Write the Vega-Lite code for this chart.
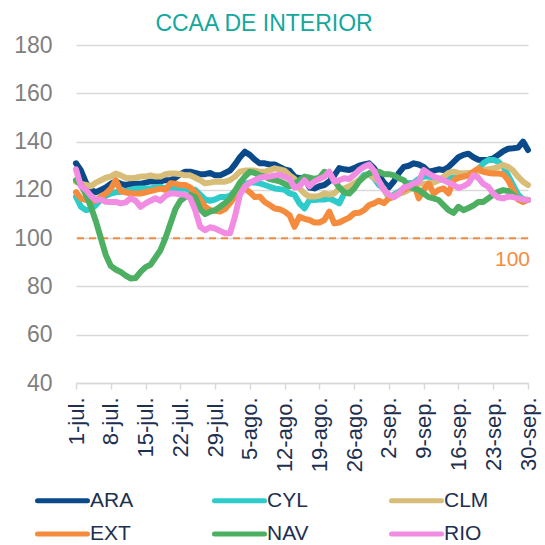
{
  "$schema": "https://vega.github.io/schema/vega-lite/v6.json",
  "autosize": "none",
  "width": 452,
  "height": 338,
  "padding": {"left": 76, "top": 45, "right": 17, "bottom": 162},
  "background": "white",
  "config": {"font": "Liberation Sans", "view": {"stroke": null}},
  "title": {"text": "CCAA DE INTERIOR", "color": "#12a89d", "fontSize": 23, "fontWeight": "normal", "anchor": "middle", "frame": "group", "dx": -38, "offset": -2},
  "datasets": {
    "serie": [
      {"f":"2021-07-01","ARA":131,"CYL":117.2,"CLM":123.4,"EXT":119,"NAV":124,"RIO":128.5},
      {"f":"2021-07-02","ARA":128,"CYL":113,"CLM":122.5,"EXT":116.5,"NAV":122,"RIO":121.5},
      {"f":"2021-07-03","ARA":123,"CYL":111.6,"CLM":122,"EXT":115.8,"NAV":118,"RIO":120},
      {"f":"2021-07-04","ARA":120,"CYL":112,"CLM":121.5,"EXT":115.5,"NAV":113,"RIO":117.5},
      {"f":"2021-07-05","ARA":119,"CYL":113.7,"CLM":123,"EXT":115.5,"NAV":107,"RIO":115.8},
      {"f":"2021-07-06","ARA":120,"CYL":116,"CLM":124,"EXT":117.2,"NAV":100,"RIO":116},
      {"f":"2021-07-07","ARA":121,"CYL":117.5,"CLM":125,"EXT":118.5,"NAV":93,"RIO":115.1},
      {"f":"2021-07-08","ARA":122.5,"CYL":118.5,"CLM":125.5,"EXT":120.5,"NAV":88.5,"RIO":115},
      {"f":"2021-07-09","ARA":123.5,"CYL":119,"CLM":126.8,"EXT":124,"NAV":87,"RIO":115},
      {"f":"2021-07-10","ARA":122.5,"CYL":119.2,"CLM":126,"EXT":119.5,"NAV":86,"RIO":114.4},
      {"f":"2021-07-11","ARA":122,"CYL":119.5,"CLM":125,"EXT":119,"NAV":84.5,"RIO":114.8},
      {"f":"2021-07-12","ARA":122.5,"CYL":120,"CLM":124.8,"EXT":118.5,"NAV":83.3,"RIO":116.5},
      {"f":"2021-07-13","ARA":122.5,"CYL":120.5,"CLM":125,"EXT":118.5,"NAV":83.5,"RIO":115.5},
      {"f":"2021-07-14","ARA":122.5,"CYL":120.6,"CLM":125.5,"EXT":118.5,"NAV":86,"RIO":113},
      {"f":"2021-07-15","ARA":123,"CYL":120.6,"CLM":125.5,"EXT":119,"NAV":88,"RIO":114.4},
      {"f":"2021-07-16","ARA":123.5,"CYL":120.6,"CLM":126,"EXT":119.5,"NAV":89,"RIO":115.5},
      {"f":"2021-07-17","ARA":123.5,"CYL":121,"CLM":125.5,"EXT":120,"NAV":92,"RIO":116.5},
      {"f":"2021-07-18","ARA":123.5,"CYL":121.3,"CLM":125.5,"EXT":120.5,"NAV":95,"RIO":115.5},
      {"f":"2021-07-19","ARA":124,"CYL":120.5,"CLM":126.5,"EXT":120,"NAV":100,"RIO":117.5},
      {"f":"2021-07-20","ARA":124,"CYL":120.5,"CLM":126.8,"EXT":122.7,"NAV":106,"RIO":118.5},
      {"f":"2021-07-21","ARA":125,"CYL":120.5,"CLM":126.8,"EXT":122.5,"NAV":112,"RIO":118.5},
      {"f":"2021-07-22","ARA":126.5,"CYL":120.5,"CLM":126.5,"EXT":122,"NAV":115.5,"RIO":118.2},
      {"f":"2021-07-23","ARA":127.5,"CYL":120.5,"CLM":126,"EXT":122,"NAV":117,"RIO":118},
      {"f":"2021-07-24","ARA":127.5,"CYL":120,"CLM":126,"EXT":121,"NAV":118,"RIO":116.5},
      {"f":"2021-07-25","ARA":127,"CYL":120,"CLM":125,"EXT":119,"NAV":117,"RIO":111.6},
      {"f":"2021-07-26","ARA":126.5,"CYL":118,"CLM":124,"EXT":116,"NAV":112,"RIO":104.7},
      {"f":"2021-07-27","ARA":126.5,"CYL":116,"CLM":122.7,"EXT":113,"NAV":110,"RIO":103.3},
      {"f":"2021-07-28","ARA":127,"CYL":115.5,"CLM":123,"EXT":111.6,"NAV":111,"RIO":104.5},
      {"f":"2021-07-29","ARA":126,"CYL":116,"CLM":123.4,"EXT":111.3,"NAV":111.6,"RIO":104},
      {"f":"2021-07-30","ARA":126,"CYL":117,"CLM":123.4,"EXT":111,"NAV":113,"RIO":103},
      {"f":"2021-07-31","ARA":127,"CYL":117,"CLM":123.4,"EXT":112,"NAV":114.5,"RIO":102},
      {"f":"2021-08-01","ARA":128,"CYL":117.5,"CLM":124,"EXT":114.5,"NAV":116.5,"RIO":102},
      {"f":"2021-08-02","ARA":130.5,"CYL":119.5,"CLM":125.5,"EXT":117.2,"NAV":119.5,"RIO":108.9},
      {"f":"2021-08-03","ARA":133.5,"CYL":121.3,"CLM":127.5,"EXT":121.3,"NAV":123,"RIO":118},
      {"f":"2021-08-04","ARA":135.8,"CYL":122.5,"CLM":128,"EXT":120.5,"NAV":125.5,"RIO":121.3},
      {"f":"2021-08-05","ARA":134.5,"CYL":123,"CLM":128,"EXT":119,"NAV":127.5,"RIO":123},
      {"f":"2021-08-06","ARA":132.5,"CYL":123,"CLM":128,"EXT":117,"NAV":127,"RIO":124},
      {"f":"2021-08-07","ARA":131,"CYL":122.7,"CLM":127.5,"EXT":117.2,"NAV":126,"RIO":125},
      {"f":"2021-08-08","ARA":131,"CYL":122,"CLM":127.5,"EXT":115,"NAV":125.5,"RIO":125.3},
      {"f":"2021-08-09","ARA":130.5,"CYL":121.3,"CLM":128.2,"EXT":113.7,"NAV":124.5,"RIO":125.5},
      {"f":"2021-08-10","ARA":130.5,"CYL":120.6,"CLM":128.9,"EXT":112.3,"NAV":124,"RIO":126},
      {"f":"2021-08-11","ARA":129.5,"CYL":120.3,"CLM":128.5,"EXT":112,"NAV":123.5,"RIO":126.2},
      {"f":"2021-08-12","ARA":128.5,"CYL":120,"CLM":128,"EXT":111,"NAV":122.5,"RIO":125.5},
      {"f":"2021-08-13","ARA":128,"CYL":118.5,"CLM":126,"EXT":109.5,"NAV":121.5,"RIO":124.5},
      {"f":"2021-08-14","ARA":125.5,"CYL":117.9,"CLM":124.5,"EXT":104.7,"NAV":122.5,"RIO":121},
      {"f":"2021-08-15","ARA":124.8,"CYL":114.4,"CLM":120.6,"EXT":108.9,"NAV":124,"RIO":121.5},
      {"f":"2021-08-16","ARA":125,"CYL":112.3,"CLM":118.5,"EXT":108,"NAV":125.5,"RIO":124},
      {"f":"2021-08-17","ARA":121,"CYL":115.8,"CLM":117.2,"EXT":107.5,"NAV":125,"RIO":121.5},
      {"f":"2021-08-18","ARA":120.6,"CYL":115.8,"CLM":117.2,"EXT":106.5,"NAV":124.5,"RIO":123.5},
      {"f":"2021-08-19","ARA":121.5,"CYL":116,"CLM":117.5,"EXT":106.5,"NAV":125,"RIO":124.5},
      {"f":"2021-08-20","ARA":122,"CYL":116,"CLM":118.5,"EXT":107.5,"NAV":127.5,"RIO":125.5},
      {"f":"2021-08-21","ARA":123.5,"CYL":116.5,"CLM":118,"EXT":111,"NAV":126.5,"RIO":127.5},
      {"f":"2021-08-22","ARA":126,"CYL":115.5,"CLM":118.5,"EXT":106.1,"NAV":124,"RIO":123.4},
      {"f":"2021-08-23","ARA":129,"CYL":114.4,"CLM":120.6,"EXT":106.5,"NAV":121,"RIO":124},
      {"f":"2021-08-24","ARA":128.5,"CYL":118.5,"CLM":120.6,"EXT":107.5,"NAV":119,"RIO":124.8},
      {"f":"2021-08-25","ARA":128.2,"CYL":120,"CLM":121.5,"EXT":108.5,"NAV":118.5,"RIO":124.5},
      {"f":"2021-08-26","ARA":129,"CYL":121.3,"CLM":122.7,"EXT":110.3,"NAV":120.5,"RIO":126.2},
      {"f":"2021-08-27","ARA":130,"CYL":124,"CLM":124,"EXT":110.5,"NAV":123.5,"RIO":128.2},
      {"f":"2021-08-28","ARA":130.5,"CYL":126.2,"CLM":125.5,"EXT":111.6,"NAV":125.5,"RIO":129.6},
      {"f":"2021-08-29","ARA":131,"CYL":126.5,"CLM":126.8,"EXT":113.7,"NAV":126.8,"RIO":130.5},
      {"f":"2021-08-30","ARA":129,"CYL":124.8,"CLM":125,"EXT":114.4,"NAV":127.5,"RIO":128},
      {"f":"2021-08-31","ARA":126,"CYL":122,"CLM":123.4,"EXT":115.5,"NAV":127.5,"RIO":123.5},
      {"f":"2021-09-01","ARA":123,"CYL":120.6,"CLM":120,"EXT":114.5,"NAV":126.5,"RIO":120},
      {"f":"2021-09-02","ARA":121,"CYL":116.5,"CLM":117.2,"EXT":116.5,"NAV":126.5,"RIO":118},
      {"f":"2021-09-03","ARA":123.5,"CYL":118,"CLM":117.5,"EXT":117,"NAV":126,"RIO":117},
      {"f":"2021-09-04","ARA":127,"CYL":119.2,"CLM":118.5,"EXT":118.5,"NAV":124.8,"RIO":118.5},
      {"f":"2021-09-05","ARA":129.5,"CYL":120.6,"CLM":119,"EXT":120,"NAV":124,"RIO":121},
      {"f":"2021-09-06","ARA":130,"CYL":122.7,"CLM":120,"EXT":121,"NAV":121.5,"RIO":121.5},
      {"f":"2021-09-07","ARA":131,"CYL":123,"CLM":121,"EXT":122.7,"NAV":120.5,"RIO":122.7},
      {"f":"2021-09-08","ARA":130.5,"CYL":124.5,"CLM":122.7,"EXT":116.5,"NAV":120,"RIO":123.4},
      {"f":"2021-09-09","ARA":129.5,"CYL":125.5,"CLM":122.5,"EXT":120,"NAV":118.5,"RIO":128.2},
      {"f":"2021-09-10","ARA":127.5,"CYL":125.5,"CLM":122.5,"EXT":122.7,"NAV":117,"RIO":126.8},
      {"f":"2021-09-11","ARA":128,"CYL":125,"CLM":123,"EXT":118.5,"NAV":116.5,"RIO":125.5},
      {"f":"2021-09-12","ARA":128.5,"CYL":124,"CLM":124,"EXT":120,"NAV":115.8,"RIO":124.8},
      {"f":"2021-09-13","ARA":128.2,"CYL":124.8,"CLM":125.5,"EXT":120.6,"NAV":113.7,"RIO":124},
      {"f":"2021-09-14","ARA":129.5,"CYL":125,"CLM":127,"EXT":118.5,"NAV":111.6,"RIO":123},
      {"f":"2021-09-15","ARA":131.5,"CYL":125.5,"CLM":127.5,"EXT":124,"NAV":110.5,"RIO":122},
      {"f":"2021-09-16","ARA":133.5,"CYL":125.8,"CLM":127,"EXT":125,"NAV":113,"RIO":120.8},
      {"f":"2021-09-17","ARA":134.5,"CYL":126.1,"CLM":126.8,"EXT":125.5,"NAV":111.6,"RIO":121.5},
      {"f":"2021-09-18","ARA":135,"CYL":126.5,"CLM":127,"EXT":126,"NAV":112.5,"RIO":122.7},
      {"f":"2021-09-19","ARA":133.5,"CYL":126.8,"CLM":127,"EXT":127.5,"NAV":113.5,"RIO":126},
      {"f":"2021-09-20","ARA":132.5,"CYL":128.5,"CLM":127.5,"EXT":128.9,"NAV":115,"RIO":125},
      {"f":"2021-09-21","ARA":132.4,"CYL":131,"CLM":128.2,"EXT":127.5,"NAV":115,"RIO":122.5},
      {"f":"2021-09-22","ARA":132.5,"CYL":132.4,"CLM":128.5,"EXT":127,"NAV":116.5,"RIO":121.3},
      {"f":"2021-09-23","ARA":133,"CYL":132.4,"CLM":128.9,"EXT":126.8,"NAV":118,"RIO":118.5},
      {"f":"2021-09-24","ARA":134.5,"CYL":131.7,"CLM":129.5,"EXT":126.8,"NAV":119.2,"RIO":116.8},
      {"f":"2021-09-25","ARA":136,"CYL":129.6,"CLM":130.3,"EXT":126.5,"NAV":119.9,"RIO":116.5},
      {"f":"2021-09-26","ARA":137,"CYL":126,"CLM":129.5,"EXT":124,"NAV":119.5,"RIO":117.2},
      {"f":"2021-09-27","ARA":137.2,"CYL":122,"CLM":128,"EXT":120,"NAV":118,"RIO":117},
      {"f":"2021-09-28","ARA":137.5,"CYL":118,"CLM":125.5,"EXT":116,"NAV":116.5,"RIO":116.5},
      {"f":"2021-09-29","ARA":140,"CYL":116,"CLM":123.4,"EXT":115,"NAV":116,"RIO":116},
      {"f":"2021-09-30","ARA":136.5,"CYL":115.8,"CLM":122,"EXT":115.8,"NAV":115.8,"RIO":115.8}
    ]
  },
  "layer": [
    {
      "data": {"values": [{"ref": 100}]},
      "mark": {"type": "rule", "color": "#f58c3d", "strokeWidth": 2, "strokeDash": [7, 5]},
      "encoding": {"y": {"field": "ref", "type": "quantitative"}}
    },
    {
      "data": {"name": "serie"},
      "transform": [{"fold": ["ARA", "CYL", "CLM", "EXT", "NAV", "RIO"], "as": ["serie", "valor"]}],
      "mark": {"type": "line", "strokeWidth": 6, "strokeJoin": "round", "strokeCap": "round"},
      "encoding": {
        "x": {
          "field": "f", "type": "temporal",
          "scale": {"type": "utc", "domain": [1625097600000, 1632960000000], "nice": false},
          "axis": {
            "title": null, "grid": false, "tickCount": 40,
            "values": [1625097600000, 1625702400000, 1626307200000, 1626912000000, 1627516800000, 1628121600000, 1628726400000, 1629331200000, 1629936000000, 1630540800000, 1631145600000, 1631750400000, 1632355200000, 1632960000000],
            "labelExpr": "utcdate(datum.value) + '-' + ['ene.','feb.','mar.','abr.','may.','jun.','jul.','ago.','sep.','oct.','nov.','dic.'][utcmonth(datum.value)]",
            "labelAngle": -90, "labelFontSize": 22, "labelColor": "#1e2f4f", "labelPadding": 8,
            "labelOverlap": false, "labelFlush": false,
            "domainColor": "#d9d9d9", "domainWidth": 1.5, "tickColor": "#d9d9d9", "tickWidth": 1.5, "tickSize": 6
          }
        },
        "y": {
          "field": "valor", "type": "quantitative",
          "scale": {"domain": [40, 180], "nice": false, "zero": false},
          "axis": {
            "title": null, "values": [40, 60, 80, 100, 120, 140, 160, 180],
            "grid": true, "gridColor": "#d9d9d9", "gridWidth": 1.5,
            "domain": false, "ticks": false,
            "labelFontSize": 23, "labelColor": "#7f7f7f", "labelPadding": 24
          }
        },
        "color": {
          "field": "serie", "type": "nominal",
          "scale": {"domain": ["ARA", "CYL", "CLM", "EXT", "NAV", "RIO"], "range": ["#0a4a8a", "#2ecbcb", "#d8bd78", "#f58c3d", "#4caf62", "#f28ce3"]},
          "legend": {
            "title": null, "orient": "none", "legendX": -41, "legendY": 443,
            "direction": "horizontal", "columns": 3, "gridAlign": "all",
            "columnPadding": 69, "rowPadding": 10.5,
            "symbolType": "M-1,0H4", "symbolSize": 400, "symbolStrokeWidth": 5,
            "labelFontSize": 21, "labelColor": "#1e2f4f", "labelOffset": 30, "labelLimit": 200,
            "encode": {"symbols": {"update": {"strokeCap": {"value": "round"}}}}
          }
        }
      }
    },
    {
      "data": {"values": [{"f": "2021-09-30", "ref": 100, "txt": "100"}]},
      "mark": {"type": "text", "color": "#f58c3d", "fontSize": 21, "align": "right", "baseline": "middle", "dy": 22, "dx": 2},
      "encoding": {
        "x": {"field": "f", "type": "temporal"},
        "y": {"field": "ref", "type": "quantitative"},
        "text": {"field": "txt"}
      }
    }
  ]
}
